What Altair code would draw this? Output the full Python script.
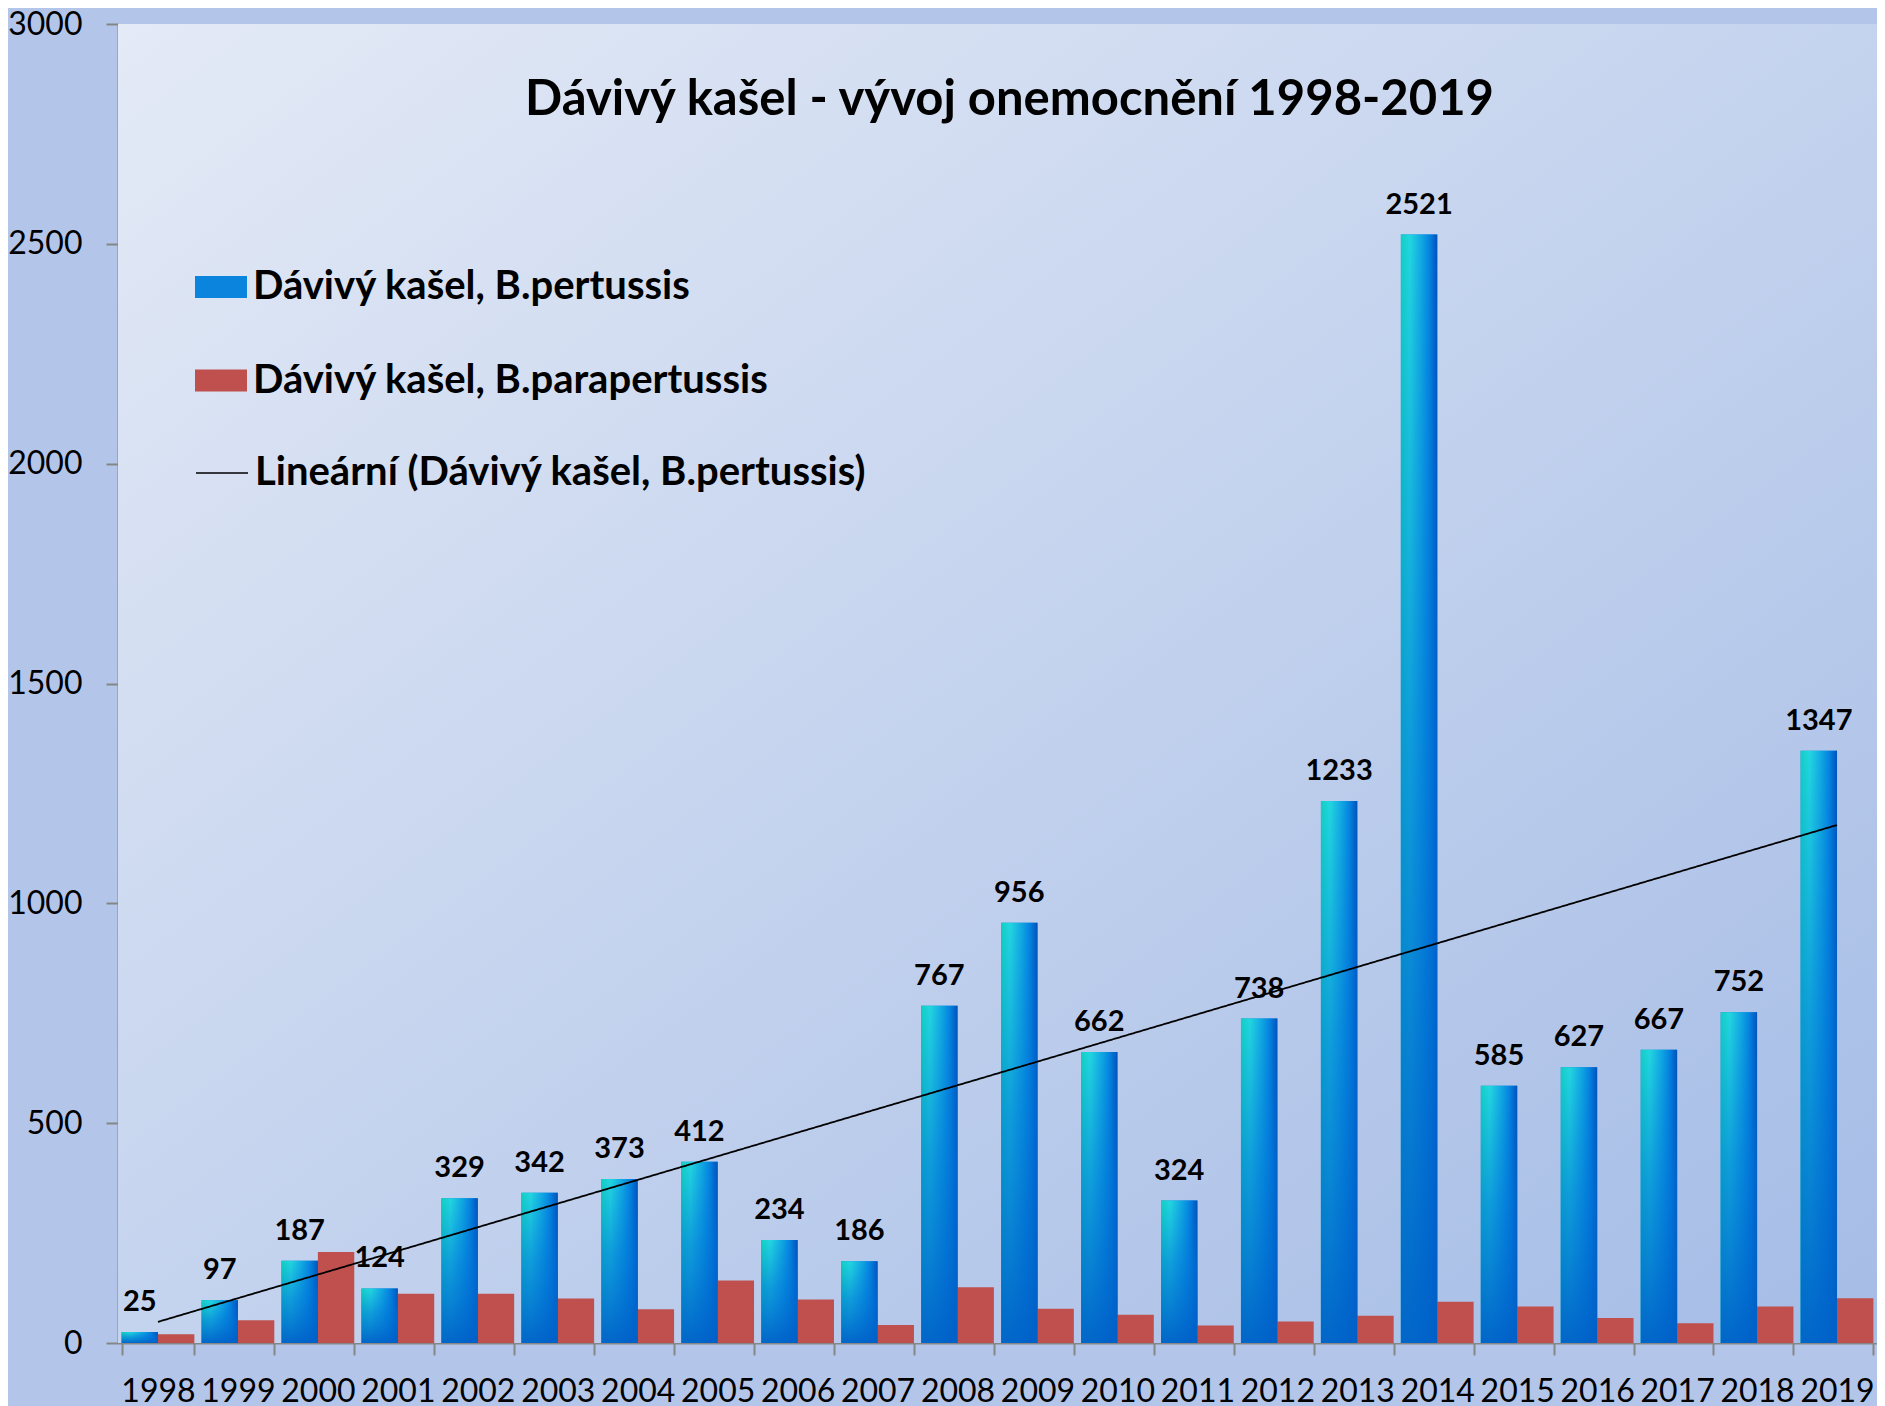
import altair as alt
import pandas as pd

years = ["1998", "1999", "2000", "2001", "2002", "2003", "2004", "2005", "2006", "2007", "2008",
         "2009", "2010", "2011", "2012", "2013", "2014", "2015", "2016", "2017", "2018", "2019"]
pertussis = [25, 97, 187, 124, 329, 342, 373, 412, 234, 186, 767,
             956, 662, 324, 738, 1233, 2521, 585, 627, 667, 752, 1347]
parapertussis = [20, 52, 207, 112, 112, 101, 77, 142, 99, 41, 127,
                 78, 64, 40, 49, 62, 94, 83, 57, 45, 83, 102]
y_ticks = [0, 500, 1000, 1500, 2000, 2500, 3000]

S_P = "Dávivý kašel, B.pertussis"
S_PP = "Dávivý kašel, B.parapertussis"
S_L = "Lineární (Dávivý kašel, B.pertussis)"
TITLE = "Dávivý kašel - vývoj onemocnění 1998-2019"

df = pd.DataFrame({
    "year": years + years,
    "series": [S_P] * len(years) + [S_PP] * len(years),
    "value": pertussis + parapertussis,
})

FONT = "Lato"
W, H = 1759, 1319
AX = "#868686"

plot_grad = alt.LinearGradient(
    gradient="linear", x1=0, y1=0, x2=1, y2=1,
    stops=[alt.GradientStop(color="#e4eaf6", offset=0),
           alt.GradientStop(color="#c4d3ee", offset=0.5),
           alt.GradientStop(color="#a5bce6", offset=1)])
bar_h_grad = alt.LinearGradient(
    gradient="linear", x1=0, y1=0, x2=1, y2=0,
    stops=[alt.GradientStop(color="#12cfc2", offset=0),
           alt.GradientStop(color="#22d6e0", offset=0.25),
           alt.GradientStop(color="#12aae2", offset=0.55),
           alt.GradientStop(color="#0584e0", offset=0.78),
           alt.GradientStop(color="#0052bc", offset=1)])
bar_v_grad = alt.LinearGradient(
    gradient="linear", x1=0, y1=0, x2=0, y2=1,
    stops=[alt.GradientStop(color="rgba(0,112,214,0)", offset=0),
           alt.GradientStop(color="rgba(0,112,214,0.55)", offset=0.45),
           alt.GradientStop(color="rgba(0,96,200,0.95)", offset=1)])

x_enc = alt.X("year:N", title=None, sort=years,
              scale=alt.Scale(domain=years, paddingInner=0.09, paddingOuter=0.045),
              axis=alt.Axis(labelAngle=0, labelFont=FONT, labelFontSize=32, labelColor="black",
                            labelPadding=21, domainColor=AX, domainWidth=2, tickColor=AX,
                            tickWidth=2, tickSize=12, tickBand="extent", grid=False))
xoff = alt.XOffset("series:N", sort=[S_P, S_PP],
                   scale=alt.Scale(domain=[S_P, S_PP], paddingInner=0, paddingOuter=0))
y_enc = alt.Y("value:Q", title=None,
              scale=alt.Scale(domain=[0, 3000], nice=False),
              axis=alt.Axis(values=y_ticks, format="d", labelFont=FONT, labelFontSize=32,
                            labelColor="black", labelPadding=24, domainColor=AX, domainWidth=2,
                            tickColor=AX, tickWidth=2, tickSize=12, grid=False))

base = alt.Chart(df)

bg = alt.Chart(alt.Data(values=[{}])).mark_rect(color=plot_grad).encode(
    x=alt.value(0), x2=alt.value("width"), y=alt.value(0), y2=alt.value("height"))

LEG_FONT = 40
leg_grad = {"gradient": "linear", "x1": 0, "y1": 0, "x2": 1, "y2": 1,
            "stops": [{"offset": 0, "color": "#14d8d0"}, {"offset": 0.45, "color": "#0a98e0"},
                      {"offset": 1, "color": "#0052bc"}]}
leg_test = "datum.value == '" + S_P + "'"
grad_expr = ("{gradient: 'linear', x1: 0, y1: 0, x2: 1, y2: 1, "
             "stops: [{offset: 0, color: '#14d8d0'}, {offset: 0.45, color: '#0a98e0'}, "
             "{offset: 1, color: '#0052bc'}]}")
legend_fill_signal = leg_test + " ? " + grad_expr + " : '#c0504d'"


def make_bars(encode):
    kw = dict(title=None, orient="none", legendX=77, legendY=237,
              direction="vertical",
              symbolType="M-1,-0.42H1V0.42H-1Z", symbolSize=2704,
              symbolStrokeWidth=0, symbolOpacity=1,
              labelFont=FONT, labelFontSize=LEG_FONT, labelFontWeight="bold",
              labelColor="black", labelLimit=1500, labelOffset=6,
              rowPadding=47.5, padding=0, offset=0)
    if encode is not None:
        kw["encode"] = encode
    return base.mark_bar().encode(
        x=x_enc, xOffset=xoff, y=y_enc,
        color=alt.Color("series:N",
                        scale=alt.Scale(domain=[S_P, S_PP], range=["#0a84dc", "#c0504d"]),
                        legend=alt.Legend(**kw)))


pert = base.transform_filter(alt.datum.series == S_P)
blue1 = pert.mark_bar(color=bar_h_grad).encode(x=x_enc, xOffset=xoff, y=y_enc)
blue2 = pert.mark_bar(color=bar_v_grad).encode(x=x_enc, xOffset=xoff, y=y_enc)

trend = pert.transform_calculate(
    idx="toNumber(datum.year) - 1998"
).transform_regression("idx", "value").transform_calculate(
    year="toString(1998 + round(datum.idx))", trend=f"'{S_L}'"
).mark_line(color="black", strokeWidth=1.8).encode(
    x=x_enc, y=y_enc,
    strokeDash=alt.StrokeDash("trend:N",
                              scale=alt.Scale(domain=[S_L], range=[[1, 0]]),
                              legend=alt.Legend(title=None, orient="none", legendX=77,
                                                legendY=422, symbolType="stroke",
                                                symbolSize=2704, symbolStrokeColor="black",
                                                symbolStrokeWidth=1.5,
                                                labelFont=FONT, labelFontSize=LEG_FONT,
                                                labelFontWeight="bold", labelColor="black",
                                                labelLimit=1500, labelOffset=6, padding=0,
                                                offset=0)))

labels = pert.mark_text(font=FONT, fontSize=29, fontWeight="bold", color="black",
                        baseline="alphabetic", dy=-21).encode(
    x=x_enc, xOffset=xoff, y=y_enc, text="value:Q")


def build(encode):
    return alt.layer(bg, make_bars(encode), blue1, blue2, trend, labels).properties(
        width=W, height=H,
        title=alt.TitleParams(TITLE, font=FONT, fontSize=49, fontWeight="bold", color="black",
                              anchor="middle", frame="group", baseline="alphabetic",
                              offset=0, dy=156, dx=12),
        padding={"left": 110, "top": 16, "right": 0, "bottom": 66},
        autosize=alt.AutoSizeParams(type="none"),
        background="#b3c6ea",
    ).configure_view(stroke=None)


variants = [
    {"symbols": {"fill": {"expr": legend_fill_signal}}},
    {"symbols": {"fill": {"value": "#c0504d",
                          "condition": {"test": leg_test, "value": {"expr": grad_expr}}}}},
    {"symbols": {"update": {"fill": [{"test": leg_test, "value": leg_grad},
                                     {"value": "#c0504d"}]}}},
    {"symbols": {"fill": [{"test": leg_test, "value": leg_grad}, {"value": "#c0504d"}]}},
    None,
]
chart = None
for enc in variants:
    try:
        c = build(enc)
        c.to_dict()
        chart = c
        break
    except Exception:
        continue

chart.save("out.html", embed_options={"renderer": "svg", "actions": False})
